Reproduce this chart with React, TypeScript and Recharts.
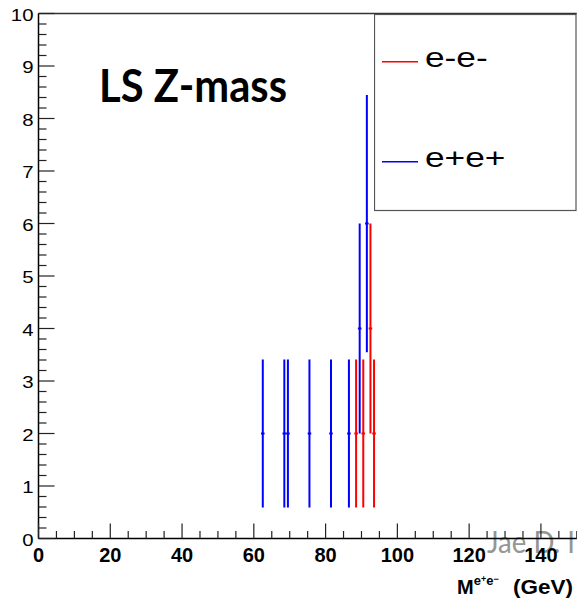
import {
  ComposedChart, Scatter, ErrorBar, XAxis, YAxis, ReferenceLine, Legend, Customized,
} from 'recharts';

// like-sign Z mass histogram, 1 GeV bins (bin centres)
const eeMinusMass = [88.5, 90.5, 92.5, 93.5];
const eeMinusCount = [2, 2, 4, 2];
const eeMinusErr = [1.41, 1.41, 2, 1.41];

const eePlusMass = [62.5, 68.5, 69.5, 75.5, 81.5, 86.5, 89.5, 91.5];
const eePlusCount = [2, 2, 2, 2, 2, 2, 4, 6];
const eePlusErr = [1.41, 1.41, 1.41, 1.41, 1.41, 1.41, 2, 2.45];

const binHalfWidth = 0.5;

const xMajorTicks = [0, 20, 40, 60, 80, 100, 120, 140];
const yMajorTicks = [0, 1, 2, 3, 4, 5, 6, 7, 8, 9, 10];

// minor ticks: every 5 GeV on x, every 0.2 on y
const xTicks = Array.from({ length: 31 }, (_, i) => i * 5);
const yTicks = Array.from({ length: 51 }, (_, i) => Math.round(i * 2) / 10);

const eeMinusRows = eeMinusMass.map((m, i) => ({ x: m, y: eeMinusCount[i], ey: eeMinusErr[i], ex: binHalfWidth }));
const eePlusRows = eePlusMass.map((m, i) => ({ x: m, y: eePlusCount[i], ey: eePlusErr[i], ex: binHalfWidth }));

const FONT = '"Liberation Sans", Arial, Helvetica, sans-serif';

const XTick = ({ x, y, payload }: any) => {
  const v = payload.value;
  const major = xMajorTicks.includes(v);
  return (
    <g>
      <line x1={x} x2={x} y1={y} y2={y - (major ? 15 : 7.5)} stroke="#222" strokeWidth={1.2} />
      {major && (
        <text x={x} y={y + 23} textAnchor="middle" fontFamily={FONT} fontWeight="bold" fontSize={20} fill="#000">
          {v}
        </text>
      )}
    </g>
  );
};

const YTick = ({ x, y, payload }: any) => {
  const v = payload.value;
  const major = yMajorTicks.some(t => Math.abs(t - v) < 1e-6);
  return (
    <g>
      <line x1={x} x2={x + (major ? 16 : 8)} y1={y} y2={y} stroke="#222" strokeWidth={1.2} />
      {major && (
        <text
          transform={`translate(${x - 5}, ${y + 7}) scale(1.2, 1)`}
          textAnchor="end" fontFamily={FONT} fontSize={17} fill="#000"
        >
          {v}
        </text>
      )}
    </g>
  );
};

const LegendBox = ({ payload }: any) => (
  <svg width={203} height={198} style={{ display: 'block' }}>
    <rect x={0.5} y={0.5} width={201.5} height={196} fill="#fff" stroke="#555" strokeWidth={1.2} />
    {(payload || []).map((p: any, i: number) => (
      <g key={p.value}>
        <line x1={8} x2={44} y1={47.7 + i * 100} y2={47.7 + i * 100} stroke={p.color} strokeWidth={1.5} />
        <text
          transform={`translate(51, ${52.7 + i * 100}) scale(1.26, 1)`}
          fontFamily={FONT} fontSize={28} fill="#000"
        >
          {p.value}
        </text>
      </g>
    ))}
  </svg>
);

const Annotations = () => (
  <g>
    <text
      x={99} y={101.5} fontFamily="Lato, sans-serif" fontWeight="bold" fontSize={45} fill="#000"
      textLength={188} lengthAdjust="spacingAndGlyphs"
    >
      LS Z-mass
    </text>
    <text x={457} y={594} fontFamily={FONT} fontWeight="bold" fontSize={20} fill="#000">
      M
      <tspan fontSize={13} dy={-9}>e</tspan>
      <tspan fontSize={9} dy={-3}>+</tspan>
      <tspan fontSize={13} dy={3}>e</tspan>
      <tspan fontSize={9} dy={-3}>−</tspan>
    </text>
    <text
      x={513} y={594} fontFamily={FONT} fontWeight="bold" fontSize={21} fill="#000"
      textLength={60} lengthAdjust="spacingAndGlyphs"
    >
      (GeV)
    </text>
    <text
      x={487} y={553} fontFamily="Lato, sans-serif" fontSize={31} fill="#8a8a8a" opacity={0.9}
      textLength={88} lengthAdjust="spacingAndGlyphs"
    >
      Jae D. I
    </text>
  </g>
);

export default function App() {
  return (
    <div style={{ position: 'absolute', left: 0, top: 0, background: '#fff' }}>
      <ComposedChart
        width={577}
        height={598}
        margin={{ top: 13.5, right: 0.2, bottom: 0, left: 0 }}
      >
        <XAxis
          type="number"
          dataKey="x"
          domain={[0, 150]}
          ticks={xTicks}
          interval={0}
          allowDataOverflow
          height={59.5}
          tickSize={0}
          tickMargin={0}
          tickLine={false}
          tick={XTick}
          axisLine={{ stroke: '#000', strokeWidth: 1.5 }}
        />
        <YAxis
          type="number"
          domain={[0, 10]}
          ticks={yTicks}
          interval={0}
          allowDataOverflow
          width={38.5}
          tickSize={0}
          tickMargin={0}
          tickLine={false}
          tick={YTick}
          axisLine={{ stroke: '#000', strokeWidth: 1.5 }}
        />
        <ReferenceLine y={10} stroke="#333" strokeWidth={1.5} ifOverflow="visible" />
        <Scatter name="e-e-" data={eeMinusRows} dataKey="y" fill="#ff0000" isAnimationActive={false} shape={() => <g />}>
          <ErrorBar dataKey="ey" direction="y" width={0} stroke="#ff0000" strokeWidth={2} isAnimationActive={false} />
          <ErrorBar dataKey="ex" direction="x" width={0} stroke="#ff0000" strokeWidth={2} isAnimationActive={false} />
        </Scatter>
        <Scatter name="e+e+" data={eePlusRows} dataKey="y" fill="#0000ff" isAnimationActive={false} shape={() => <g />}>
          <ErrorBar dataKey="ey" direction="y" width={0} stroke="#0000ff" strokeWidth={2} isAnimationActive={false} />
          <ErrorBar dataKey="ex" direction="x" width={0} stroke="#0000ff" strokeWidth={2} isAnimationActive={false} />
        </Scatter>
        <Legend
          layout="horizontal"
          verticalAlign="middle"
          align="center"
          itemSorter="dataKey"
          content={LegendBox}
          wrapperStyle={{ position: 'absolute', left: 374, top: 14, width: 203, height: 198 }}
        />
        <Customized component={Annotations} />
      </ComposedChart>
    </div>
  );
}
